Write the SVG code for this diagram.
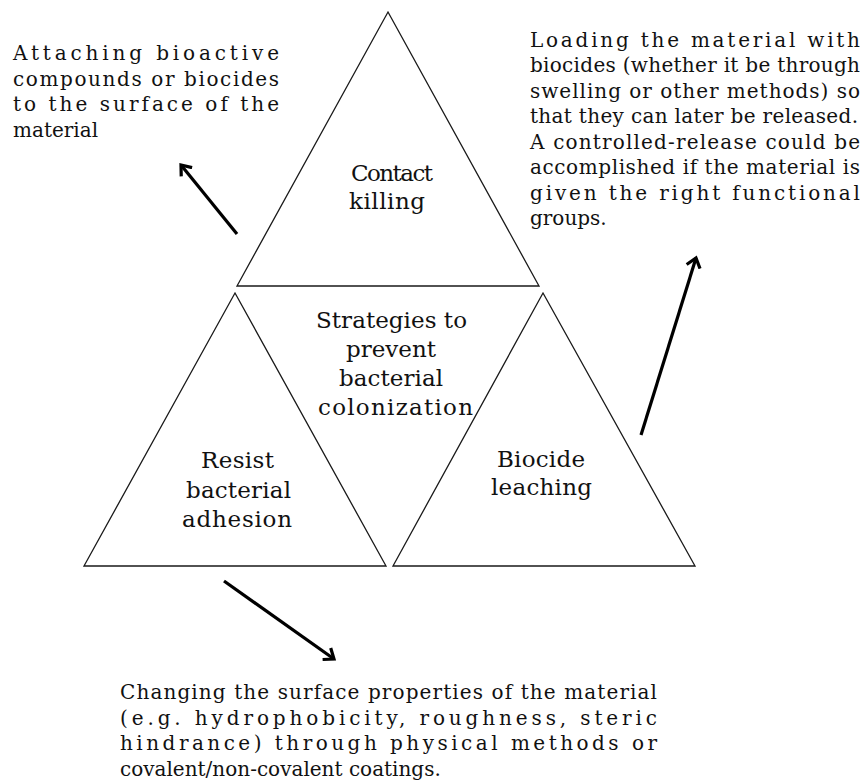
<svg xmlns="http://www.w3.org/2000/svg" width="865" height="781" viewBox="0 0 865 781">
<style>
.tri{fill:#fff;stroke:#1a1a1a;stroke-width:1.3;stroke-linejoin:miter}
.lbl{font-family:"DejaVu Serif","Liberation Serif",serif;font-size:23px;fill:#111}
.body{font-family:"DejaVu Serif","Liberation Serif",serif;font-size:20px;fill:#111}
.arr{stroke:#000;stroke-width:3.2;fill:none;marker-end:url(#ah)}
</style>
<defs>
<marker id="ah" markerWidth="20" markerHeight="20" refX="10" refY="10" orient="auto" markerUnits="userSpaceOnUse" viewBox="0 0 20 20">
<path d="M1,3 L10,10 L1,17" fill="none" stroke="#000" stroke-width="3.2"/>
</marker>
</defs>
<rect width="865" height="781" fill="#fff"/>
<g id="contact-killing">
<polygon class="tri" points="388,12 539,286 237,286"/>
<text class="lbl" x="351" y="181" textLength="82" lengthAdjust="spacing">Contact</text>
<text class="lbl" x="349" y="209" textLength="76" lengthAdjust="spacing">killing</text>
</g>
<g id="resist-adhesion">
<polygon class="tri" points="235,293 386,566 84,566"/>
<text class="lbl" x="201" y="468" textLength="73" lengthAdjust="spacing">Resist</text>
<text class="lbl" x="186" y="498" textLength="105" lengthAdjust="spacing">bacterial</text>
<text class="lbl" x="182" y="527" textLength="110" lengthAdjust="spacing">adhesion</text>
</g>
<g id="biocide-leaching">
<polygon class="tri" points="543,293 695,566 393,566"/>
<text class="lbl" x="497" y="467" textLength="88" lengthAdjust="spacing">Biocide</text>
<text class="lbl" x="491" y="495" textLength="101" lengthAdjust="spacing">leaching</text>
</g>
<g id="strategies">
<text class="lbl" x="316" y="328" textLength="151" lengthAdjust="spacing">Strategies to</text>
<text class="lbl" x="346" y="357" textLength="90" lengthAdjust="spacing">prevent</text>
<text class="lbl" x="339" y="386" textLength="104" lengthAdjust="spacing">bacterial</text>
<text class="lbl" x="318" y="415" textLength="155" lengthAdjust="spacing">colonization</text>
</g>
<g id="note-contact">
<text class="body" x="13" y="60" textLength="266" lengthAdjust="spacing">Attaching bioactive</text>
<text class="body" x="13" y="85.5" textLength="266" lengthAdjust="spacing">compounds or biocides</text>
<text class="body" x="13" y="111" textLength="266" lengthAdjust="spacing">to the surface of the</text>
<text class="body" x="13" y="136.5">material</text>
</g>
<g id="note-leaching">
<text class="body" x="530" y="46.5" textLength="330" lengthAdjust="spacing">Loading the material with</text>
<text class="body" x="530" y="72" textLength="330" lengthAdjust="spacing">biocides (whether it be through</text>
<text class="body" x="530" y="97.5" textLength="330" lengthAdjust="spacing">swelling or other methods) so</text>
<text class="body" x="530" y="123" textLength="328" lengthAdjust="spacing">that they can later be released.</text>
<text class="body" x="530" y="148.5" textLength="330" lengthAdjust="spacing">A controlled-release could be</text>
<text class="body" x="530" y="174" textLength="330" lengthAdjust="spacing">accomplished if the material is</text>
<text class="body" x="530" y="199.5" textLength="330" lengthAdjust="spacing">given the right functional</text>
<text class="body" x="530" y="225">groups.</text>
</g>
<g id="note-resist">
<text class="body" x="120" y="699" textLength="537" lengthAdjust="spacing">Changing the surface properties of the material</text>
<text class="body" x="120" y="724.5" textLength="537" lengthAdjust="spacing">(e.g. hydrophobicity, roughness, steric</text>
<text class="body" x="120" y="750" textLength="537" lengthAdjust="spacing">hindrance) through physical methods or</text>
<text class="body" x="120" y="775.5">covalent/non-covalent coatings.</text>
</g>
<g id="connectors">
<line class="arr" x1="237" y1="234" x2="181" y2="165"/>
<line class="arr" x1="641" y1="435" x2="696" y2="258"/>
<line class="arr" x1="224" y1="581" x2="334" y2="659"/>
</g>
</svg>
